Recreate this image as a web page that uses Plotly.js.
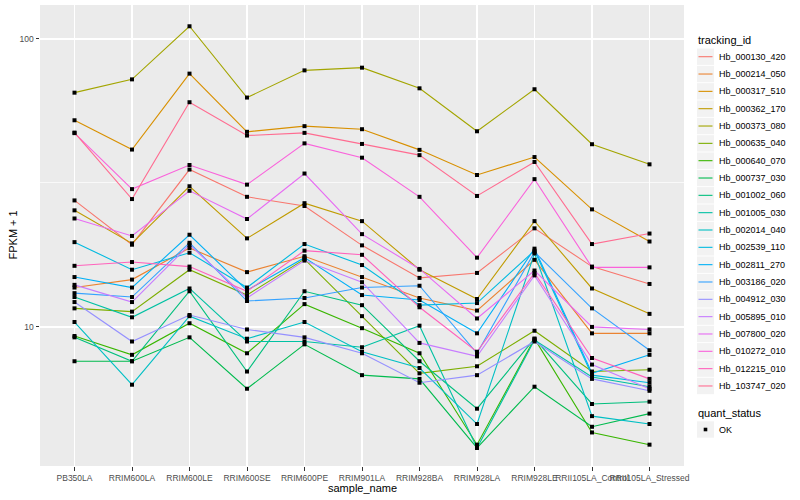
<!DOCTYPE html>
<html>
<head>
<meta charset="utf-8">
<script src="https://cdn.plot.ly/plotly-3.0.1.min.js"></script>
<style>html,body{margin:0;padding:0;background:#fff;}#chart{width:800px;height:500px;}</style>
</head>
<body>
<div id="chart"></div>
<script>
// Categories (x axis)
const sampleNames = ['PB350LA','RRIM600LA','RRIM600LE','RRIM600SE','RRIM600PE','RRIM901LA','RRIM928BA','RRIM928LA','RRIM928LE','RRII105LA_Control','RRII105LA_Stressed'];

// Series values: FPKM + 1, per sample
const hb_000130_420 = [27.5, 19.3, 35.2, 28.3, 26.3, 19.2, 14.8, 15.4, 22.0, 16.2, 14.1];
const hb_000214_050 = [13.7, 14.6, 18.8, 15.5, 17.6, 14.9, 12.6, 11.4, 17.1, 9.5, 9.5];
const hb_000317_510 = [52.2, 41.3, 75.8, 47.6, 49.8, 48.6, 41.2, 33.7, 38.9, 25.6, 19.8];
const hb_000362_170 = [25.4, 19.5, 30.8, 20.3, 26.9, 23.3, 15.8, 12.5, 23.3, 13.6, 11.1];
const hb_000373_080 = [65.1, 72.4, 110.7, 62.6, 77.8, 79.5, 67.4, 47.8, 66.9, 43.1, 36.7];
const hb_000635_040 = [11.6, 11.3, 15.8, 12.9, 17.2, 10.9, 6.9, 7.3, 9.7, 7.0, 7.1];
const hb_000640_070 = [9.3, 8.0, 10.3, 8.1, 12.0, 9.9, 8.1, 3.9, 9.1, 4.3, 3.9];
const hb_000737_030 = [7.6, 7.6, 9.2, 6.1, 8.7, 6.8, 6.6, 3.8, 6.2, 4.5, 5.0];
const hb_001002_060 = [9.2, 7.6, 13.3, 7.0, 13.3, 11.9, 7.6, 5.2, 9.1, 5.4, 5.5];
const hb_001005_030 = [12.7, 10.8, 13.6, 8.9, 8.9, 8.5, 10.1, 3.8, 9.0, 6.7, 6.2];
const hb_002014_040 = [10.4, 6.3, 10.9, 9.1, 10.4, 8.2, 7.2, 4.6, 18.0, 4.9, 4.6];
const hb_002539_110 = [19.7, 15.8, 18.1, 13.7, 19.4, 16.4, 11.9, 12.1, 18.4, 6.8, 6.4];
const hb_002811_270 = [14.9, 13.7, 20.9, 13.4, 17.4, 12.9, 12.4, 9.5, 18.7, 6.9, 8.0];
const hb_003186_020 = [13.1, 12.7, 19.6, 12.3, 12.6, 13.7, 13.9, 8.1, 18.2, 11.6, 8.3];
const hb_004912_030 = [12.2, 8.9, 11.0, 9.8, 9.2, 8.1, 6.4, 6.8, 8.9, 6.6, 6.0];
const hb_005895_010 = [14.0, 12.2, 19.3, 12.6, 17.0, 14.3, 8.8, 7.9, 15.1, 7.4, 6.1];
const hb_007800_020 = [23.8, 20.7, 29.7, 23.7, 34.1, 21.0, 15.9, 10.7, 15.7, 10.0, 9.8];
const hb_010272_010 = [47.1, 30.1, 36.5, 31.2, 43.4, 38.7, 28.3, 17.4, 32.6, 16.1, 16.1];
const hb_012215_010 = [16.3, 16.8, 16.2, 13.3, 18.4, 17.8, 11.7, 8.2, 15.4, 7.8, 6.6];
const hb_103747_020 = [47.3, 27.8, 60.3, 46.2, 47.2, 43.2, 39.5, 28.5, 37.4, 19.4, 21.1];

// Legend labels
const trackingIds = ['Hb_000130_420','Hb_000214_050','Hb_000317_510','Hb_000362_170','Hb_000373_080','Hb_000635_040','Hb_000640_070','Hb_000737_030','Hb_001002_060','Hb_001005_030','Hb_002014_040','Hb_002539_110','Hb_002811_270','Hb_003186_020','Hb_004912_030','Hb_005895_010','Hb_007800_020','Hb_010272_010','Hb_012215_010','Hb_103747_020'];
const seriesValues = [hb_000130_420, hb_000214_050, hb_000317_510, hb_000362_170, hb_000373_080, hb_000635_040, hb_000640_070, hb_000737_030, hb_001002_060, hb_001005_030, hb_002014_040, hb_002539_110, hb_002811_270, hb_003186_020, hb_004912_030, hb_005895_010, hb_007800_020, hb_010272_010, hb_012215_010, hb_103747_020];
const colors = ['#F8766D','#EA8331','#D89000','#C09B00','#A3A500','#7CAE00','#39B600','#00BB4E','#00BF7D','#00C1A3','#00BFC4','#00BAE0','#00B0F6','#35A2FF','#9590FF','#C77CFF','#E76BF3','#FA62DB','#FF62BC','#FF6C91'];
const yTickVals = [10, 100];
const yTickText = ['10', '100'];
const quantStatus = ['OK'];

const FONT = 'Liberation Sans, Arial, Helvetica, sans-serif';
const L = 40, R = 684, T = 5, B = 466;
const px2x = p => (p - L) / (R - L);
const py2y = p => (B - p) / (B - T);

const traces = [];
seriesValues.forEach((vals, i) => {
  traces.push({
    type: 'scatter', mode: 'lines', x: sampleNames, y: vals,
    line: {color: colors[i], width: 1.1}, name: trackingIds[i],
    showlegend: false, hoverinfo: 'skip'
  });
});
seriesValues.forEach((vals, i) => {
  traces.push({
    type: 'scatter', mode: 'markers', x: sampleNames, y: vals,
    marker: {color: '#000000', symbol: 'square', size: 4},
    name: trackingIds[i] + ' ' + quantStatus[0], showlegend: false
  });
});

const shapes = [];
const annotations = [];

// legend: tracking_id
annotations.push({xref: 'paper', yref: 'paper', x: px2x(696), y: py2y(40.5), xanchor: 'left', yanchor: 'middle',
  text: 'tracking_id', showarrow: false, font: {family: FONT, size: 11, color: '#000'}});
trackingIds.forEach((id, i) => {
  const cy = 56.7 + i * 17.33;
  shapes.push({type: 'rect', xref: 'paper', yref: 'paper', x0: px2x(697), x1: px2x(714), y0: py2y(cy - 8.2), y1: py2y(cy + 8.2),
    fillcolor: '#F2F2F2', line: {width: 0}, layer: 'above'});
  shapes.push({type: 'line', xref: 'paper', yref: 'paper', x0: px2x(698.5), x1: px2x(712.5), y0: py2y(cy), y1: py2y(cy),
    line: {color: colors[i], width: 1.1}, layer: 'above'});
  annotations.push({xref: 'paper', yref: 'paper', x: px2x(716.5), y: py2y(cy), xanchor: 'left', yanchor: 'middle',
    text: id, showarrow: false, font: {family: FONT, size: 9, color: '#000'}});
});
// legend: quant_status
annotations.push({xref: 'paper', yref: 'paper', x: px2x(696), y: py2y(412.5), xanchor: 'left', yanchor: 'middle',
  text: 'quant_status', showarrow: false, font: {family: FONT, size: 11, color: '#000'}});
quantStatus.forEach((q, i) => {
  const cy = 429.5 + i * 17.33;
  shapes.push({type: 'rect', xref: 'paper', yref: 'paper', x0: px2x(697), x1: px2x(714), y0: py2y(cy - 8.2), y1: py2y(cy + 8.2),
    fillcolor: '#F2F2F2', line: {width: 0}, layer: 'above'});
  shapes.push({type: 'rect', xref: 'paper', yref: 'paper', x0: px2x(703.7), x1: px2x(707.3), y0: py2y(cy - 1.8), y1: py2y(cy + 1.8),
    fillcolor: '#000', line: {width: 0}, layer: 'above'});
  annotations.push({xref: 'paper', yref: 'paper', x: px2x(716.5), y: py2y(cy), xanchor: 'left', yanchor: 'middle',
    text: q, showarrow: false, font: {family: FONT, size: 9, color: '#000'}});
});
// axis titles
annotations.push({xref: 'paper', yref: 'paper', x: 0.5, y: py2y(487.5), xanchor: 'center', yanchor: 'middle',
  text: 'sample_name', showarrow: false, font: {family: FONT, size: 11, color: '#000'}});
annotations.push({xref: 'paper', yref: 'paper', x: px2x(12), y: 0.5, xanchor: 'center', yanchor: 'middle', textangle: -90,
  text: 'FPKM + 1', showarrow: false, font: {family: FONT, size: 11, color: '#000'}});

const layout = {
  width: 800, height: 500,
  margin: {l: L, r: 800 - R, t: T, b: 500 - B, pad: 0},
  paper_bgcolor: '#FFFFFF', plot_bgcolor: '#EBEBEB',
  showlegend: false,
  xaxis: {
    type: 'category', categoryorder: 'array', categoryarray: sampleNames,
    range: [-0.6, sampleNames.length - 0.4],
    tickvals: sampleNames, tickangle: 0,
    showgrid: true, gridcolor: '#FFFFFF', gridwidth: 1.4,
    zeroline: false, showline: false,
    ticks: 'outside', ticklen: 3.5, tickcolor: '#333333', tickwidth: 1,
    tickfont: {family: FONT, size: 8.5, color: '#4D4D4D'}, fixedrange: true
  },
  yaxis: {
    type: 'log', range: [0.517, 2.118],
    tickvals: yTickVals, ticktext: yTickText,
    showgrid: true, gridcolor: '#FFFFFF', gridwidth: 1.4,
    minor: {tickvals: [31.6228], showgrid: true, gridcolor: '#FFFFFF', gridwidth: 0.7, ticks: ''},
    zeroline: false, showline: false,
    ticks: 'outside', ticklen: 3.5, tickcolor: '#333333', tickwidth: 1,
    tickfont: {family: FONT, size: 8.5, color: '#4D4D4D'}, fixedrange: true
  },
  shapes: shapes,
  annotations: annotations
};

Plotly.newPlot('chart', traces, layout, {staticPlot: true, displayModeBar: false});
</script>
</body>
</html>
